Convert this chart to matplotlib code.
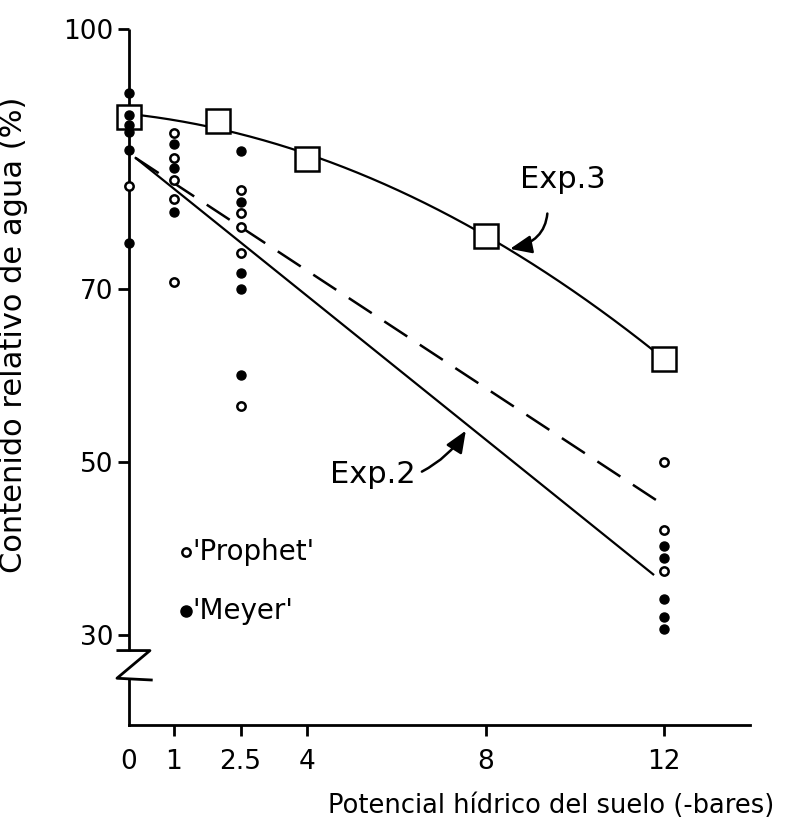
import matplotlib
matplotlib.use("Agg")
import matplotlib.pyplot as plt
import numpy as np

plt.rcParams["font.family"] = "DejaVu Sans"

# Exp.3 squares
sq_x = [0, 2, 4, 8, 12]
sq_y = [89.8, 89.4, 85.0, 76.1, 61.9]

# 'Prophet' (open circles)
prophet_x = [0, 1, 1, 1, 1, 1, 2.5, 2.5, 2.5, 2.5, 2.5, 12, 12, 12]
prophet_y = [81.9, 88.0, 85.1, 82.6, 80.4, 70.8, 81.4, 78.8, 77.1, 74.1, 56.4, 50.0, 42.1, 37.4]

# 'Meyer' (filled circles)
meyer_x = [0, 0, 0, 0, 0, 0, 1, 1, 1, 2.5, 2.5, 2.5, 2.5, 2.5, 12, 12, 12, 12, 12]
meyer_y = [92.6, 90.1, 88.9, 88.1, 86.0, 75.3, 86.7, 84.0, 78.9,
           85.9, 80.0, 71.8, 70.0, 60.0, 40.3, 38.9, 34.2, 32.1, 30.7]

# Exp.2 regression lines
solid_x = [0.15, 11.75]
solid_y = [85.1, 37.0]
dashed_x = [0.15, 11.9]
dashed_y = [85.1, 45.3]

xticks = [0, 1, 2.5, 4, 8, 12]
xlabels = ["0", "1", "2.5", "4", "8", "12"]
yticks = [30, 50, 70, 100]

fig = plt.figure(figsize=(7.98, 8.34), dpi=100)
ax = fig.add_axes([129 / 798, 109 / 834, 621 / 798, 696 / 834])
ax.set_xlim(0, 13.92)
ax.set_ylim(19.6, 100)

for s in ["top", "right", "left"]:
    ax.spines[s].set_visible(False)
ax.spines["bottom"].set_linewidth(2.0)

# broken y axis drawn by hand
lw_ax = 2.0
ax.plot([0, 0], [28.2, 100], color="black", lw=lw_ax, clip_on=False, solid_capstyle="butt")
ax.plot([-0.25, 0.47, -0.27, 0.5], [28.2, 28.2, 25.0, 24.8], color="black", lw=lw_ax, clip_on=False)
ax.plot([0, 0], [19.6, 24.8], color="black", lw=lw_ax, clip_on=False)

ax.set_yticks(yticks)
ax.set_yticklabels([str(v) for v in yticks])
ax.set_xticks(xticks)
ax.set_xticklabels(xlabels)
ax.tick_params(axis="both", direction="out", length=8, width=2, labelsize=19, pad=3)
ax.tick_params(axis="x", pad=9)
ax.xaxis.get_major_ticks()[0].tick1line.set_visible(False)

# Exp.3 fitted curve
coef = np.polyfit(sq_x, sq_y, 2)
xx = np.linspace(0, 12, 200)
ax.plot(xx, np.polyval(coef, xx), color="black", lw=1.6, clip_on=False)
ax.plot(sq_x, sq_y, ls="none", marker="s", ms=17, mfc="white", mec="black", mew=1.8,
        clip_on=False, zorder=4)

# Exp.2 lines
ax.plot(solid_x, solid_y, color="black", lw=1.6)
ax.plot(dashed_x, dashed_y, color="black", lw=1.8, dashes=(11, 6))

ax.plot(prophet_x, prophet_y, ls="none", marker="o", ms=6, mfc="white", mec="black", mew=1.8,
        clip_on=False, zorder=5)
ax.plot(meyer_x, meyer_y, ls="none", marker="o", ms=6.5, mfc="black", mec="black",
        clip_on=False, zorder=5)

# legend drawn as text
ax.plot([1.28], [39.6], ls="none", marker="o", ms=6, mfc="white", mec="black", mew=1.8)
ax.plot([1.28], [32.8], ls="none", marker="o", ms=8, mfc="black", mec="black")
ax.text(1.43, 39.6, "'Prophet'", fontsize=20, va="center", ha="left")
ax.text(1.43, 32.8, "'Meyer'", fontsize=20, va="center", ha="left")

# annotations
ax.annotate("Exp.3", xy=(8.54, 74.6), xytext=(8.77, 82.6), fontsize=22, ha="left", va="center",
            arrowprops=dict(arrowstyle="-|>,head_length=0.6,head_width=0.25", color="black", lw=1.8,
                            connectionstyle="arc3,rad=-0.5", shrinkA=12, shrinkB=0,
                            relpos=(0.3, 0.0)))
ax.annotate("Exp.2", xy=(7.55, 53.6), xytext=(4.5, 48.5), fontsize=22, ha="left", va="center",
            arrowprops=dict(arrowstyle="-|>,head_length=0.6,head_width=0.25", color="black", lw=1.8,
                            connectionstyle="arc3,rad=0.15", shrinkA=3, shrinkB=0,
                            relpos=(1.0, 0.5)))

ax.set_xlabel("Potencial hídrico del suelo (-bares)", fontsize=18.5)
ax.xaxis.set_label_coords(0.68, -0.097)
ax.set_ylabel("Contenido relativo de agua (%)", fontsize=22)
ax.yaxis.set_label_coords(-0.163, 0.56)

fig.savefig("out.png", dpi=100)
